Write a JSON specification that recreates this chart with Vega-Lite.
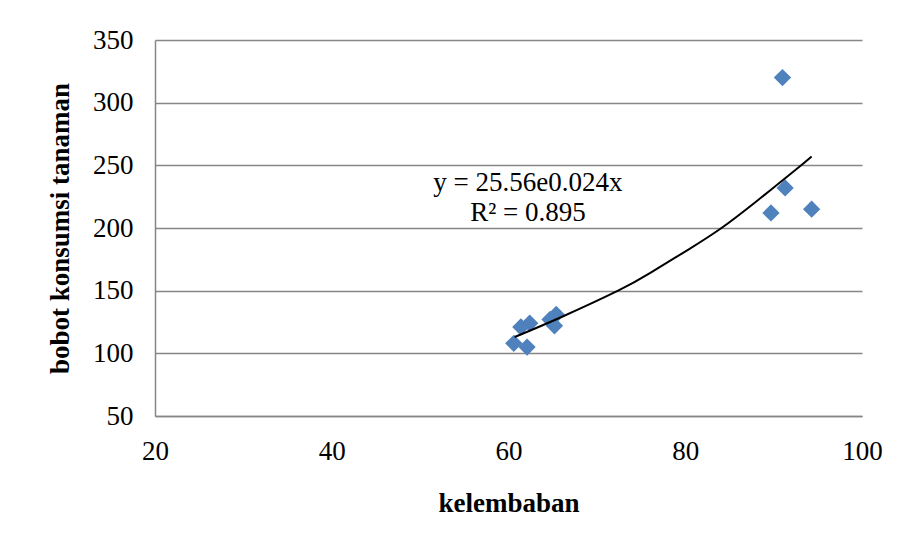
{
  "$schema": "https://vega.github.io/schema/vega-lite/v6.json",
  "autosize": "none",
  "width": 707,
  "height": 376,
  "padding": {"left": 155, "top": 40, "right": 37, "bottom": 130},
  "background": "white",
  "config": {
    "view": {"stroke": null},
    "font": "Liberation Serif"
  },
  "datasets": {
    "pts": [
      {"kelembaban": 60.6, "bobot": 108},
      {"kelembaban": 62.1, "bobot": 105},
      {"kelembaban": 61.4, "bobot": 121},
      {"kelembaban": 62.4, "bobot": 124},
      {"kelembaban": 64.7, "bobot": 127},
      {"kelembaban": 65.4, "bobot": 131},
      {"kelembaban": 65.2, "bobot": 122},
      {"kelembaban": 91.0, "bobot": 320},
      {"kelembaban": 91.3, "bobot": 232},
      {"kelembaban": 89.7, "bobot": 212},
      {"kelembaban": 94.3, "bobot": 215}
    ],
    "trend": [
      {"kelembaban": 60.7, "bobot": 113},
      {"kelembaban": 66.0, "bobot": 129},
      {"kelembaban": 72.4, "bobot": 150},
      {"kelembaban": 76.0, "bobot": 164},
      {"kelembaban": 80.4, "bobot": 183},
      {"kelembaban": 84.1, "bobot": 200},
      {"kelembaban": 88.0, "bobot": 221},
      {"kelembaban": 92.6, "bobot": 247},
      {"kelembaban": 94.3, "bobot": 257}
    ],
    "label": [
      {"x": 62.2, "y": 236, "t": ["y = 25.56e0.024x", "R² = 0.895"]}
    ]
  },
  "layer": [
    {
      "data": {"name": "pts"},
      "mark": {"type": "point", "shape": "diamond", "filled": true, "color": "#4F81BD", "opacity": 1, "size": 300},
      "encoding": {
        "x": {
          "field": "kelembaban", "type": "quantitative",
          "scale": {"domain": [20, 100], "nice": false, "zero": false},
          "axis": {
            "title": "kelembaban", "values": [20, 40, 60, 80, 100],
            "grid": false, "ticks": false, "labelFlush": false, "domainColor": "#868686", "domainWidth": 1.5,
            "labelFontSize": 27, "labelColor": "black", "labelPadding": 22, "labelFont": "Liberation Serif",
            "titleFontSize": 27, "titleFont": "Liberation Serif", "titleFontWeight": "bold", "titleColor": "black", "titlePadding": 26
          }
        },
        "y": {
          "field": "bobot", "type": "quantitative",
          "scale": {"domain": [50, 350], "nice": false, "zero": false},
          "axis": {
            "title": "bobot konsumsi tanaman", "values": [50, 100, 150, 200, 250, 300, 350],
            "grid": true, "gridColor": "#868686", "gridWidth": 1.5, "ticks": false, "labelFlush": false,
            "domainColor": "#868686", "domainWidth": 1.5,
            "labelFontSize": 27, "labelColor": "black", "labelPadding": 22, "labelFont": "Liberation Serif",
            "titleFontSize": 27, "titleFont": "Liberation Serif", "titleFontWeight": "bold", "titleColor": "black", "titlePadding": 18
          }
        }
      }
    },
    {
      "data": {"name": "trend"},
      "mark": {"type": "line", "color": "black", "strokeWidth": 2, "interpolate": "natural"},
      "encoding": {
        "x": {"field": "kelembaban", "type": "quantitative"},
        "y": {"field": "bobot", "type": "quantitative"}
      }
    },
    {
      "data": {"name": "label"},
      "mark": {"type": "text", "fontSize": 27, "font": "Liberation Serif", "color": "black", "lineHeight": 30, "align": "center", "baseline": "middle"},
      "encoding": {
        "x": {"field": "x", "type": "quantitative"},
        "y": {"field": "y", "type": "quantitative"},
        "text": {"field": "t"}
      }
    }
  ]
}
